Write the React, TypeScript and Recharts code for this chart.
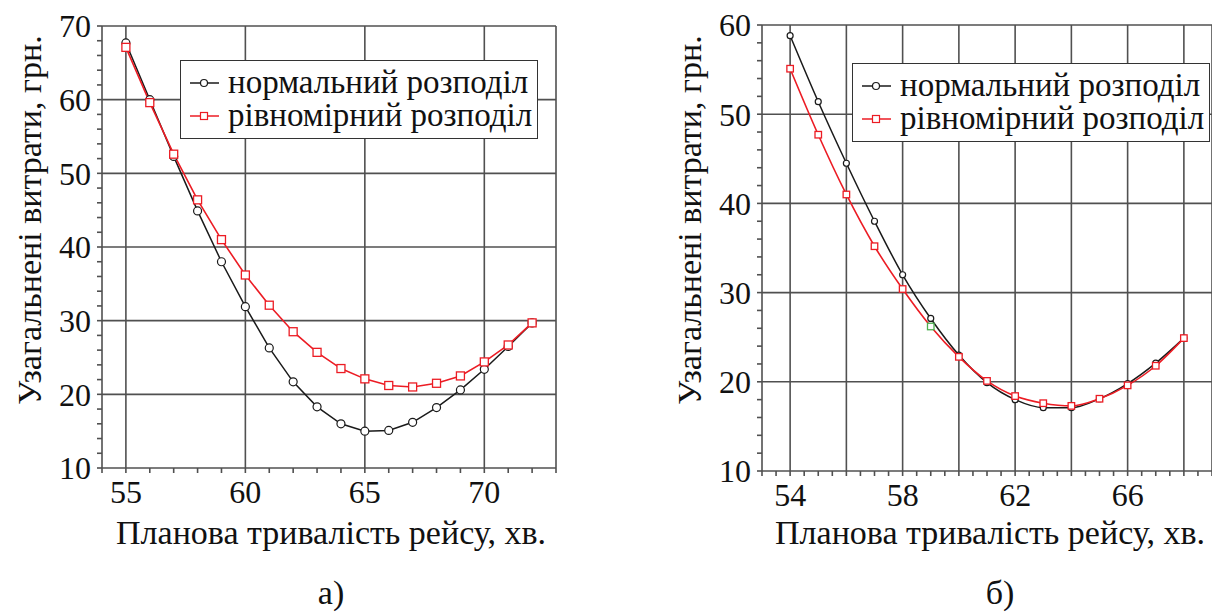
import { LineChart, Line, XAxis, YAxis, ReferenceLine, Legend } from 'recharts';

// panel а)
const leftT = [55, 56, 57, 58, 59, 60, 61, 62, 63, 64, 65, 66, 67, 68, 69, 70, 71, 72];
const leftNormal = [67.7, 60.0, 52.3, 44.9, 38.0, 31.9, 26.3, 21.7, 18.3, 16.0, 15.0, 15.1, 16.2, 18.2, 20.6, 23.4, 26.5, 29.7];
const leftUniform = [67.1, 59.6, 52.6, 46.4, 41.0, 36.2, 32.1, 28.5, 25.7, 23.5, 22.1, 21.2, 21.0, 21.5, 22.5, 24.4, 26.7, 29.7];
const leftXLabels = [55, 60, 65, 70];
const leftYLabels = [10, 20, 30, 40, 50, 60, 70];
const leftGridX = [55, 60, 65, 70, 73];
const leftGridY = [20, 30, 40, 50, 60, 70];

// panel б)
const rightT = [54, 55, 56, 57, 58, 59, 60, 61, 62, 63, 64, 65, 66, 67, 68];
const rightNormal = [58.8, 51.4, 44.5, 38.0, 32.0, 27.1, 23.0, 19.9, 18.0, 17.1, 17.1, 18.1, 19.8, 22.1, 24.9];
const rightUniform = [55.1, 47.7, 41.0, 35.2, 30.4, 26.2, 22.8, 20.1, 18.4, 17.6, 17.3, 18.1, 19.6, 21.8, 24.9];
const rightXLabels = [54, 58, 62, 66];
const rightYLabels = [10, 20, 30, 40, 50, 60];
const rightGridX = [54, 56, 58, 60, 62, 64, 66, 68, 69];
const rightGridY = [20, 30, 40, 50, 60];
const oddMarkerT = 59; // this square came out green in the original

const seriesNames = ['нормальний розподіл', 'рівномірний розподіл'];
const yTitle = 'Узагальнені витрати, грн.';
const xTitle = 'Планова тривалість рейсу, хв.';

const FONT = '"Liberation Serif", serif';
const GRID = '#505050';
const BLACK = '#1a1a1a';
const RED = '#ec1c24';

const range = (a: number, b: number, step: number) => {
  const out: number[] = [];
  for (let v = a; v <= b + 1e-9; v += step) out.push(Math.round(v * 10) / 10);
  return out;
};

const tickStyle = { fontSize: 32, fontFamily: FONT, fill: '#111' };

function LegendBox({ payload }: any) {
  const items = payload || [];
  return (
    <div
      style={{
        border: `1.5px solid #333`,
        background: '#fff',
        padding: '5px 5px 6px 8px',
        fontFamily: FONT,
        fontSize: 33,
        lineHeight: '33px',
        color: '#111',
      }}
    >
      {items.map((it: any, i: number) => (
        <div key={i} style={{ display: 'flex', alignItems: 'center', whiteSpace: 'nowrap' }}>
          <svg width={32} height={16} style={{ marginRight: 7 }}>
            <line x1={1} y1={8} x2={30} y2={8} stroke={it.color} strokeWidth={1.5} />
            {i === 0 ? (
              <circle cx={15} cy={8} r={3.5} fill="#fff" stroke={it.color} strokeWidth={1.2} />
            ) : (
              <rect x={11.5} y={4.5} width={7} height={7} fill="#fff" stroke={it.color} strokeWidth={1.2} />
            )}
          </svg>
          <span>{it.value}</span>
        </div>
      ))}
    </div>
  );
}

function SquareDot(props: any) {
  const { cx, cy, payload, size, color } = props;
  if (cx == null || cy == null) return null;
  const c = payload && payload.t === oddMarkerT && size < 7 ? '#4caf50' : color;
  return <rect x={cx - size / 2} y={cy - size / 2} width={size} height={size} fill="#fff" stroke={c} strokeWidth={1.3} />;
}

function Panel({ width, data, xDomain, yDomain, xMinor, yMinor, xLabels, yLabels, gridX, gridY, curve, margin, dotR, sq, legendPos }: any) {
  return (
    <LineChart width={width} height={612} data={data} margin={margin}>
      {gridX.map((v: number) => (
        <ReferenceLine key={'gx' + v} x={v} stroke={GRID} strokeWidth={1.6} />
      ))}
      {gridY.map((v: number) => (
        <ReferenceLine key={'gy' + v} y={v} stroke={GRID} strokeWidth={1.6} />
      ))}
      <XAxis
        dataKey="t"
        type="number"
        domain={xDomain}
        ticks={xMinor}
        interval={0}
        allowDataOverflow
        height={40}
        tickSize={5}
        tickMargin={7}
        tick={tickStyle}
        tickFormatter={(v: number) => (xLabels.includes(v) ? String(v) : '')}
        stroke={GRID}
        strokeWidth={1.6}
      />
      <YAxis
        type="number"
        domain={yDomain}
        ticks={yMinor}
        interval={0}
        allowDataOverflow
        width={70}
        tickSize={5}
        tickMargin={6}
        tick={tickStyle}
        tickFormatter={(v: number) => (yLabels.includes(v) ? String(v) : '')}
        stroke={GRID}
        strokeWidth={1.6}
      />
      <Legend
        layout="vertical"
        align="center"
        verticalAlign="middle"
        wrapperStyle={{ top: legendPos.top, left: legendPos.left, width: 'auto' }}
        content={(p: any) => <LegendBox payload={p.payload} />}
      />
      <Line
        type={curve}
        dataKey="normal"
        name={seriesNames[0]}
        stroke={BLACK}
        strokeWidth={1.5}
        dot={{ r: dotR, fill: '#fff', stroke: BLACK, strokeWidth: 1.2 }}
        activeDot={false}
        isAnimationActive={false}
      />
      <Line
        type={curve}
        dataKey="uniform"
        name={seriesNames[1]}
        stroke={RED}
        strokeWidth={1.6}
        dot={(p: any) => <SquareDot key={'d' + p.index} {...p} size={sq} color={RED} />}
        activeDot={false}
        isAnimationActive={false}
      />
    </LineChart>
  );
}

const titleStyle: any = {
  position: 'absolute',
  fontFamily: FONT,
  fontSize: 34,
  lineHeight: '34px',
  color: '#111',
  whiteSpace: 'nowrap',
};

export default function App() {
  const leftData = leftT.map((t, i) => ({ t, normal: leftNormal[i], uniform: leftUniform[i] }));
  const rightData = rightT.map((t, i) => ({ t, normal: rightNormal[i], uniform: rightUniform[i] }));

  return (
    <div style={{ position: 'relative', width: 1212, height: 612, background: '#fff', overflow: 'hidden' }}>
      <style>{'body{margin:0}'}</style>
      <div style={{ position: 'absolute', left: 0, top: 0 }}>
        <Panel
          width={600}
          data={leftData}
          xDomain={[54, 73]}
          yDomain={[10, 70]}
          xMinor={range(54, 73, 1)}
          yMinor={range(10, 70, 2)}
          xLabels={leftXLabels}
          yLabels={leftYLabels}
          gridX={leftGridX}
          gridY={leftGridY}
          curve="linear"
          margin={{ top: 26, right: 44, bottom: 104, left: 32 }}
          dotR={4}
          sq={8}
          legendPos={{ top: 60, left: 180 }}
        />
      </div>
      <div style={{ position: 'absolute', left: 600, top: 0 }}>
        <Panel
          width={612}
          data={rightData}
          xDomain={[53, 69]}
          yDomain={[10, 60]}
          xMinor={range(53, 69, 0.5)}
          yMinor={range(10, 60, 2)}
          xLabels={rightXLabels}
          yLabels={rightYLabels}
          gridX={rightGridX}
          gridY={rightGridY}
          curve="monotone"
          margin={{ top: 25, right: 0, bottom: 101, left: 92 }}
          dotR={3}
          sq={6.5}
          legendPos={{ top: 63, left: 252 }}
        />
      </div>

      <div style={{ ...titleStyle, left: 30, top: 220, transform: 'translate(-50%, -50%) rotate(-90deg)' }}>{yTitle}</div>
      <div style={{ ...titleStyle, left: 690, top: 220, transform: 'translate(-50%, -50%) rotate(-90deg)' }}>{yTitle}</div>
      <div style={{ ...titleStyle, left: 331, top: 516, transform: 'translateX(-50%)' }}>{xTitle}</div>
      <div style={{ ...titleStyle, left: 990, top: 516, transform: 'translateX(-50%)' }}>{xTitle}</div>
      <div style={{ ...titleStyle, left: 331, top: 576, transform: 'translateX(-50%)' }}>а)</div>
      <div style={{ ...titleStyle, left: 1000, top: 576, transform: 'translateX(-50%)' }}>б)</div>
    </div>
  );
}
